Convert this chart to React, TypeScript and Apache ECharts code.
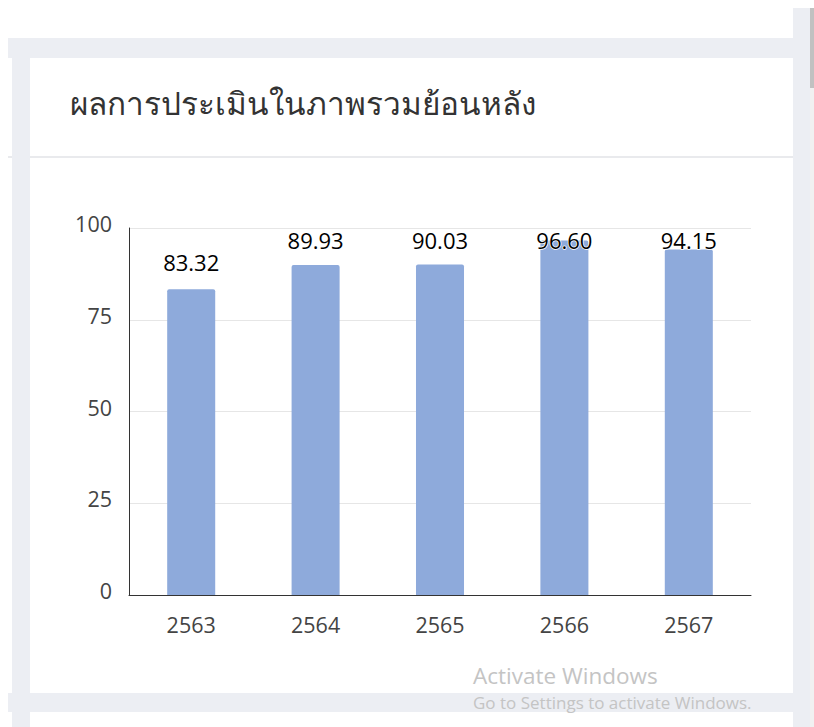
import React, { useEffect, useRef } from "react";
import * as echarts from "echarts";

const title = "ผลการประเมินในภาพรวมย้อนหลัง";
const categories = ["2563", "2564", "2565", "2566", "2567"];
const scores = [83.32, 89.93, 90.03, 96.6, 94.15];
const yTicks = [0, 25, 50, 75, 100];

const W = 814;
const H = 727;
const GRID_TOP = 228;
const GRID_BOTTOM_Y = 595;
const GRID_LEFT = 129;
const GRID_RIGHT_X = 751;
const LABEL_FONT = 22;
const AXIS_FONT = 21.5;
const LABEL_CENTER_MIN_Y = 240;
const LABEL_GAP = 27;

const BG = "#eceef3";

export default function App() {
  const ref = useRef<HTMLDivElement>(null);

  useEffect(() => {
    if (!ref.current) return;
    const chart = echarts.init(ref.current, undefined, { renderer: "svg" });
    const yMax = yTicks[yTicks.length - 1];
    const pxPerUnit = (GRID_BOTTOM_Y - GRID_TOP) / yMax;

    const data = scores.map((v) => {
      const barTop = GRID_TOP + (yMax - v) * pxPerUnit;
      const center = Math.max(barTop - LABEL_GAP, LABEL_CENTER_MIN_Y);
      const distance = barTop - center - LABEL_FONT / 2;
      return { value: v, label: { distance } };
    });

    chart.setOption({
      animation: false,
      backgroundColor: "#ffffff",
      graphic: [
        { type: "rect", z: -10, shape: { x: 8, y: 38, width: 785, height: 20 }, style: { fill: BG } },
        { type: "rect", z: -10, shape: { x: 12, y: 58, width: 18, height: H - 58 }, style: { fill: BG } },
        { type: "rect", z: -10, shape: { x: 793, y: 8, width: 17, height: H - 8 }, style: { fill: BG } },
        { type: "rect", z: -10, shape: { x: 8, y: 693, width: 785, height: 19 }, style: { fill: BG } },
        { type: "rect", z: -10, shape: { x: 810, y: 8, width: 4, height: H - 8 }, style: { fill: "#f1f1f1" } },
        { type: "rect", z: -10, shape: { x: 810, y: 8, width: 4, height: 80 }, style: { fill: "#c1c1c1" } },
        { type: "rect", z: -9, shape: { x: 30, y: 156, width: 763, height: 2 }, style: { fill: "#e9eaed" } },
        { type: "rect", z: -9, shape: { x: 8, y: 156, width: 4, height: 2 }, style: { fill: "#e9eaed" } },
        {
          type: "text",
          left: 70,
          top: 86,
          style: {
            text: title,
            fill: "#333333",
            font: '31.5px "Noto Sans", sans-serif',
          },
        },
        {
          type: "text",
          left: 473,
          top: 664,
          style: {
            text: "Activate Windows",
            fill: "#c4c4c4",
            font: '22.5px "Open Sans", sans-serif',
          },
        },
        {
          type: "text",
          left: 473,
          top: 694,
          style: {
            text: "Go to Settings to activate Windows.",
            fill: "#c4c4c4",
            font: '17px "Open Sans", sans-serif',
          },
        },
      ],
      grid: {
        left: GRID_LEFT,
        right: W - GRID_RIGHT_X,
        top: GRID_TOP,
        bottom: H - GRID_BOTTOM_Y,
        containLabel: false,
      },
      xAxis: {
        type: "category",
        data: categories,
        axisLine: { show: true, lineStyle: { color: "#333333", width: 1 } },
        axisTick: { show: false },
        axisLabel: {
          color: "#444444",
          fontSize: AXIS_FONT,
          fontFamily: "Open Sans",
          margin: 18,
        },
      },
      yAxis: {
        type: "value",
        min: 0,
        max: yMax,
        interval: 25,
        axisLine: { show: true, lineStyle: { color: "#333333", width: 1 } },
        axisTick: { show: false },
        axisLabel: {
          color: "#444444",
          fontSize: AXIS_FONT,
          fontFamily: "Open Sans",
          margin: 17,
          verticalAlign: "bottom",
          lineHeight: 9,
        },
        splitLine: { show: true, lineStyle: { color: "#e6e6e6", width: 1 } },
      },
      series: [
        {
          type: "bar",
          data,
          barWidth: "38.6%",
          itemStyle: { color: "#8eaadb", borderRadius: [2, 2, 0, 0] },
          label: {
            show: true,
            position: "top",
            color: "#000000",
            fontSize: LABEL_FONT,
            fontFamily: "Open Sans",
            textBorderColor: "#ffffff",
            textBorderWidth: 1.5,
            formatter: (p: any) => Number(p.value).toFixed(2),
          },
        },
      ],
    });

    return () => chart.dispose();
  }, []);

  return (
    <div
      ref={ref}
      style={{ position: "fixed", left: 0, top: 0, width: W, height: H }}
    />
  );
}
